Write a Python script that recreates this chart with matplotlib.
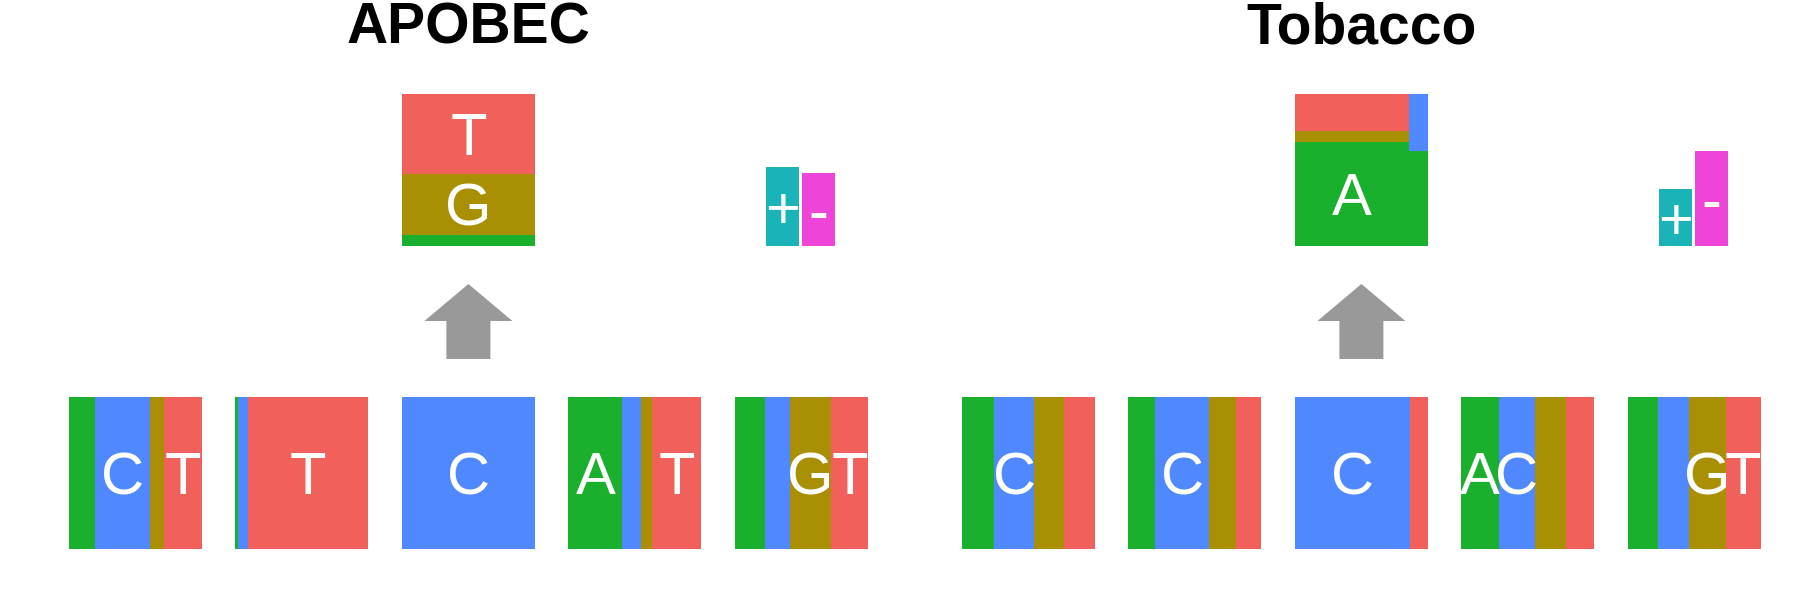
import numpy as np
import matplotlib.pyplot as plt
from matplotlib.transforms import ScaledTranslation

plt.rcParams['font.family'] = ['Liberation Sans', 'DejaVu Sans']

bases = ['A', 'C', 'G', 'T']
base_colors = {'A': '#1AB02E', 'C': '#5088FF', 'G': '#A88F03', 'T': '#F2605C'}
strand_labels = ['+', '-']
strand_colors = ['#1AB3B8', '#EE44D8']
titles = ['APOBEC', 'Tobacco']

# context composition (A, C, G, T) for the 5 positions around the mutated base
apobec_context = [[0.198, 0.410, 0.103, 0.289],
                  [0.018, 0.073, 0.000, 0.909],
                  [0.000, 1.000, 0.000, 0.000],
                  [0.407, 0.143, 0.078, 0.372],
                  [0.225, 0.190, 0.312, 0.273]]
tobacco_context = [[0.241, 0.302, 0.224, 0.233],
                   [0.203, 0.405, 0.198, 0.194],
                   [0.000, 0.862, 0.000, 0.138],
                   [0.280, 0.276, 0.233, 0.211],
                   [0.229, 0.234, 0.273, 0.264]]

# substituted base fractions (A, C, G, T), stacked bottom-up
apobec_sub = [0.072, 0.0, 0.403, 0.525]
tobacco_sub = [0.686, 0.0, 0.071, 0.243]
# extra C block drawn in the top-right corner of the substitution box (width, height)
apobec_extra = [0.0, 0.0]
tobacco_extra = [0.145, 0.375]

apobec_strand = [0.523, 0.477]
tobacco_strand = [0.375, 0.625]

contexts = [apobec_context, tobacco_context]
subs = [apobec_sub, tobacco_sub]
extras = [apobec_extra, tobacco_extra]
strands = [apobec_strand, tobacco_strand]

W, H = 1800, 600
fig = plt.figure(figsize=(18, 6), dpi=100)

FS = 43
shift = ScaledTranslation(0, -0.358 * FS / 72, fig.dpi_scale_trans)


def px_axes(x0, y0, w, h):
    ax = fig.add_axes([x0 / W, 1 - (y0 + h) / H, w / W, h / H])
    ax.set_axis_off()
    return ax


def letter(ax, x, y, s):
    ax.text(x, y, s, transform=ax.transData + shift, ha='center', va='baseline',
            color='white', fontsize=FS, clip_on=True)


box_w, box_h = 133, 152
for p in range(2):
    off = p * 893
    # bottom context boxes
    for i, frac in enumerate(contexts[p]):
        ax = px_axes(69 + off + i * 166.45, 397, box_w, 151.5)
        left = 0
        for b, f in zip(bases, frac):
            ax.barh(0.5, f, left=left, height=1, color=base_colors[b], lw=0)
            if f >= 0.25:
                letter(ax, left + f / 2, 0.5, b)
            left += f
        ax.set_xlim(0, 1)
        ax.set_ylim(0, 1)

    cx = 69 + off + 2 * 166.45
    # substitution box
    ax = px_axes(cx, 94, box_w, box_h)
    bottom = 0
    ew, eh = extras[p]
    for b, f in zip(bases, subs[p]):
        ax.bar(0.5, f, bottom=bottom, width=1, color=base_colors[b], lw=0)
        if f >= 0.25:
            letter(ax, (1 - ew) / 2, bottom + f / 2, b)
        bottom += f
    if ew > 0:
        ax.bar(1 - ew / 2, eh, bottom=1 - eh, width=ew, color=base_colors['C'], lw=0)
    ax.set_xlim(0, 1)
    ax.set_ylim(0, 1)

    # arrow
    ax = px_axes(cx + box_w / 2 - 44, 284, 88, 75)
    ax.arrow(44, 0, 0, 75, width=44, head_width=88, head_length=37,
             length_includes_head=True, color='#999999', lw=0, clip_on=False)
    ax.set_xlim(0, 88)
    ax.set_ylim(0, 75)

    # title
    fig.text((cx + box_w / 2) / W, 1 - 43.3 / H, titles[p], ha='center', va='baseline',
             fontsize=41, fontweight='bold')

    # strand bars
    ax = px_axes(766 + off, 94, 69, box_h)
    for k in range(2):
        ax.bar(k, strands[p][k], width=33 / 36, color=strand_colors[k], lw=0)
        letter(ax, k, strands[p][k] / 2, strand_labels[k])
    ax.set_xlim(-0.4583, 1.4583)
    ax.set_ylim(0, 1)

fig.savefig('out.png', dpi=100)
